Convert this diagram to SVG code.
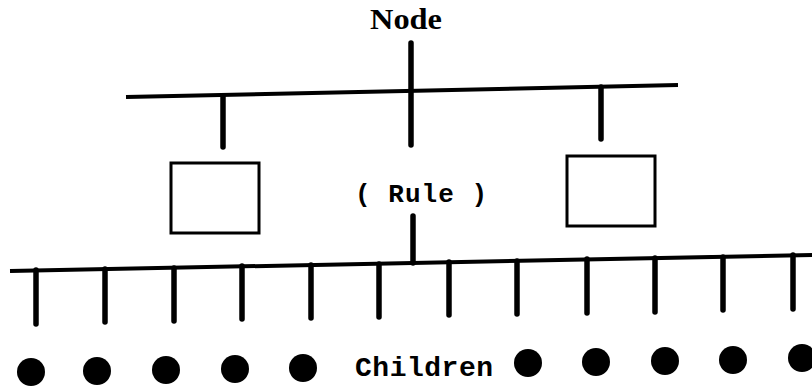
<svg xmlns="http://www.w3.org/2000/svg" width="812" height="388" viewBox="0 0 812 388">
  <style>
    .bar { stroke: #000; stroke-width: 4; stroke-linecap: butt; fill: none; }
    .tick { stroke: #000; stroke-width: 5.5; stroke-linecap: round; fill: none; }
    .box { stroke: #000; stroke-width: 3; fill: #fff; }
    .dot { fill: #000; }
    .serif { font-family: "Liberation Serif", "DejaVu Serif", serif; font-weight: bold; fill: #000; }
    .mono { font-family: "Liberation Mono", "DejaVu Sans Mono", monospace; font-weight: bold; fill: #000; }
  </style>
  <rect width="812" height="388" fill="#fff"/>

  <!-- connectors: the node bus, rule bus and their stems -->
  <g id="connectors">
    <line class="bar" x1="126" y1="97" x2="678" y2="85"/>
    <line class="tick" x1="411" y1="43" x2="411" y2="145"/>
    <line class="tick" x1="223" y1="96" x2="223" y2="147"/>
    <line class="tick" x1="601" y1="87" x2="601" y2="139"/>

    <line class="bar" x1="10" y1="271" x2="812" y2="255"/>
    <line class="tick" x1="413" y1="216" x2="413" y2="263"/>

    <line class="tick" x1="36" y1="270" x2="36" y2="324"/>
    <line class="tick" x1="105" y1="269" x2="105" y2="322"/>
    <line class="tick" x1="174" y1="268" x2="174" y2="321"/>
    <line class="tick" x1="242" y1="266" x2="242" y2="319"/>
    <line class="tick" x1="311" y1="265" x2="311" y2="318"/>
    <line class="tick" x1="379" y1="264" x2="379" y2="317"/>
    <line class="tick" x1="449" y1="262" x2="449" y2="315"/>
    <line class="tick" x1="517" y1="261" x2="517" y2="314"/>
    <line class="tick" x1="587" y1="259" x2="587" y2="313"/>
    <line class="tick" x1="655" y1="258" x2="655" y2="312"/>
    <line class="tick" x1="723" y1="257" x2="723" y2="310"/>
    <line class="tick" x1="793" y1="255" x2="793" y2="309"/>
  </g>

  <g id="node-label">
    <text class="serif" x="370" y="29" font-size="29" textLength="72" lengthAdjust="spacingAndGlyphs">Node</text>
  </g>

  <g id="rule">
    <text class="mono" x="355" y="202" font-size="26" textLength="132" lengthAdjust="spacing" xml:space="preserve">( Rule )</text>
  </g>

  <g id="left-box">
    <rect class="box" x="171" y="163" width="88" height="70"/>
  </g>
  <g id="right-box">
    <rect class="box" x="567" y="156" width="88" height="70"/>
  </g>

  <g id="children-label">
    <text class="mono" x="355" y="376" font-size="28" textLength="138" lengthAdjust="spacing">Children</text>
  </g>

  <g id="children">
    <circle class="dot" cx="31" cy="372" r="14"/>
    <circle class="dot" cx="97" cy="371" r="14"/>
    <circle class="dot" cx="166" cy="370" r="14"/>
    <circle class="dot" cx="235" cy="369" r="14"/>
    <circle class="dot" cx="303" cy="368" r="14"/>
    <circle class="dot" cx="528" cy="363" r="14"/>
    <circle class="dot" cx="596" cy="362" r="14"/>
    <circle class="dot" cx="665" cy="361" r="14"/>
    <circle class="dot" cx="733" cy="360" r="14"/>
    <circle class="dot" cx="802" cy="358" r="14"/>
  </g>
</svg>
